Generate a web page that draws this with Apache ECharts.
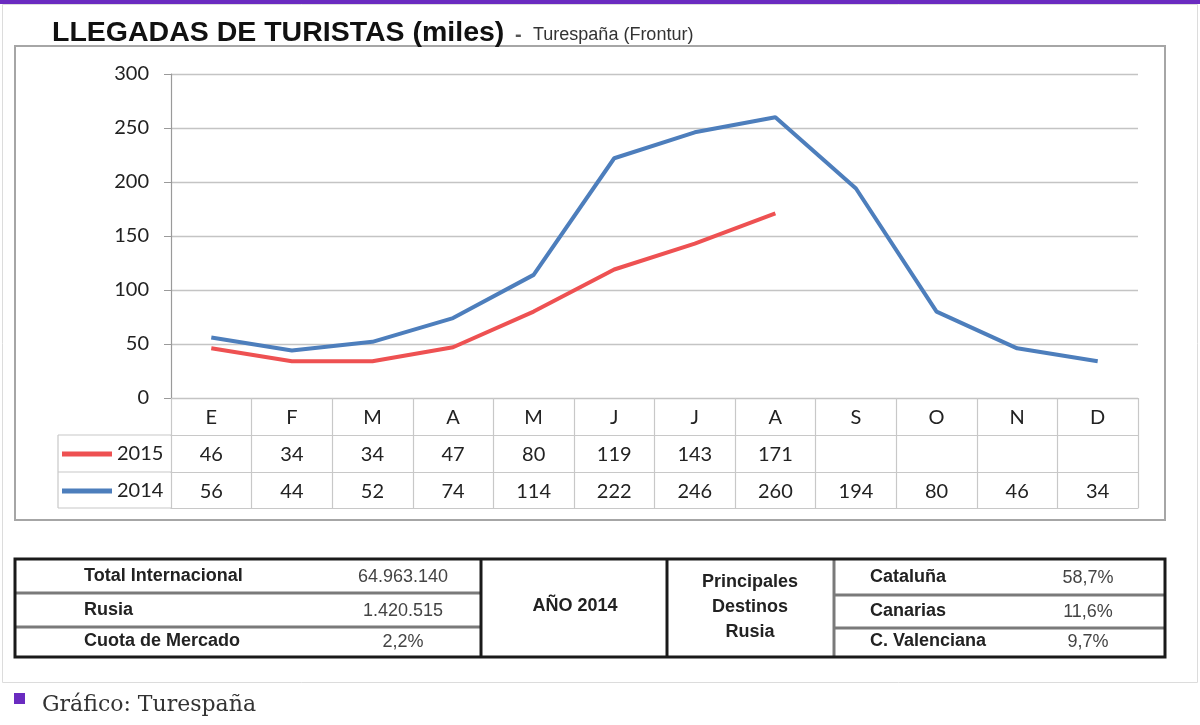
<!DOCTYPE html>
<html><head><meta charset="utf-8">
<script src="https://cdn.jsdelivr.net/npm/echarts@6/dist/echarts.min.js"></script>
<style>html,body{margin:0;padding:0;background:#fff}#c{width:1200px;height:725px}</style>
</head><body><div id="c"></div>
<script>
const months = ['E','F','M','A','M','J','J','A','S','O','N','D'];
const values2015 = [46,34,34,47,80,119,143,171,null,null,null,null];
const values2014 = [56,44,52,74,114,222,246,260,194,80,46,34];
const seriesNames = ['2015','2014'];
const summaryLabels = ['Total Internacional','Rusia','Cuota de Mercado'];
const summaryValues = ['64.963.140','1.420.515','2,2%'];
const yearLabel = 'AÑO 2014';
const destinosTitle = ['Principales','Destinos','Rusia'];
const destinos = ['Cataluña','Canarias','C. Valenciana'];
const destinosShare = ['58,7%','11,6%','9,7%'];

const RED = '#EE5152', BLUE = '#4D7EBC';
const GRID = '#c4c4c4', TBL = '#c8c8c8';
const NUM_FONT = 'Lato';
const NUM_COLOR = '#222';
const chart = echarts.init(document.getElementById('c'), null, {renderer:'canvas'});

function valueAxis(offset, vals, showLabels){
  return {
    type:'category', data: months, position:'bottom', offset: offset, boundaryGap:true,
    axisLine:{show:true, lineStyle:{color:TBL, width:1.2}},
    axisTick:{show:false},
    axisLabel:{show:showLabels, interval:0, margin:10, fontFamily:NUM_FONT, fontSize:20, color:NUM_COLOR,
      formatter:(v,i)=> (vals && vals[i]!=null) ? String(vals[i]) : ''}
  };
}

const g = [];
// top purple bar and card
g.push({type:'rect', shape:{x:0,y:0,width:1200,height:4}, style:{fill:'#6A2BC0'}, silent:true});
g.push({type:'rect', shape:{x:2.5,y:4.5,width:1195,height:678}, style:{fill:'none', stroke:'#dcdcdc', lineWidth:1}, silent:true});
// chart frame
g.push({type:'rect', shape:{x:15,y:46,width:1150,height:474}, style:{fill:'none', stroke:'#a6a6a6', lineWidth:2}, silent:true});
// title
g.push({type:'text', x:52, y:33, style:{text:'LLEGADAS DE TURISTAS (miles)', font:'bold 28.5px "Liberation Sans", Arial', fill:'#111', verticalAlign:'middle'}});
g.push({type:'text', x:515, y:35, style:{text:'-', font:'bold 20px "Liberation Sans", Arial', fill:'#555', verticalAlign:'middle'}});
g.push({type:'text', x:533, y:35, style:{text:'Turespaña (Frontur)', font:'18px "Liberation Sans", Arial', fill:'#333', verticalAlign:'middle'}});
// left part of data table
[435, 472, 508].forEach(y=>g.push({type:'line', shape:{x1:58,y1:y,x2:171,y2:y}, style:{stroke:TBL, lineWidth:1.2}, silent:true}));
g.push({type:'line', shape:{x1:58,y1:435,x2:58,y2:508}, style:{stroke:TBL, lineWidth:1.2}, silent:true});

// bottom summary table
const T = {x1:15, x2:1165, y1:559, y2:657};
const thick = {stroke:'#1a1a1a', lineWidth:3};
const dbl = {stroke:'#7a7a7a', lineWidth:3};
g.push({type:'line', shape:{x1:15,y1:593,x2:481,y2:593}, style:dbl, silent:true});
g.push({type:'line', shape:{x1:15,y1:627,x2:481,y2:627}, style:dbl, silent:true});
g.push({type:'line', shape:{x1:834,y1:595,x2:1165,y2:595}, style:dbl, silent:true});
g.push({type:'line', shape:{x1:834,y1:628,x2:1165,y2:628}, style:dbl, silent:true});
g.push({type:'line', shape:{x1:834,y1:559,x2:834,y2:657}, style:dbl, silent:true});
g.push({type:'rect', shape:{x:T.x1,y:T.y1,width:T.x2-T.x1,height:T.y2-T.y1}, style:{fill:'none', ...thick}, silent:true});
g.push({type:'line', shape:{x1:481,y1:559,x2:481,y2:657}, style:thick, silent:true});
g.push({type:'line', shape:{x1:667,y1:559,x2:667,y2:657}, style:thick, silent:true});
const rowY = [576, 610, 641];
const boldF = 'bold 18px "Liberation Sans", Arial';
const normF = '18px "Liberation Sans", Arial';
summaryLabels.forEach((t,i)=>{
  g.push({type:'text', x:84, y:rowY[i], style:{text:t, font:boldF, fill:'#222', verticalAlign:'middle'}});
  g.push({type:'text', x:403, y:rowY[i]+1, style:{text:summaryValues[i], font:normF, fill:'#444', align:'center', verticalAlign:'middle'}});
});
g.push({type:'text', x:575, y:606, style:{text:yearLabel, font:boldF, fill:'#222', align:'center', verticalAlign:'middle'}});
destinosTitle.forEach((t,i)=>g.push({type:'text', x:750, y:582+i*25, style:{text:t, font:boldF, fill:'#222', align:'center', verticalAlign:'middle'}}));
const dY = [577, 611, 641];
destinos.forEach((t,i)=>{
  g.push({type:'text', x:870, y:dY[i], style:{text:t, font:boldF, fill:'#222', verticalAlign:'middle'}});
  g.push({type:'text', x:1088, y:dY[i]+1, style:{text:destinosShare[i], font:normF, fill:'#444', align:'center', verticalAlign:'middle'}});
});
// footer
g.push({type:'rect', shape:{x:14,y:693,width:11,height:11}, style:{fill:'#6A2BC0'}, silent:true});
g.push({type:'text', x:42, y:705, style:{text:'Gráfico: Turespaña', font:'22px "DejaVu Serif", serif', fill:'#333', verticalAlign:'middle'}});

const option = {
  animation:false,
  backgroundColor:'#fff',
  grid:{left:171, right:62, top:74, bottom:327, containLabel:false},
  legend:{orient:'vertical', left:62, top:444, padding:0, itemWidth:50, itemHeight:5, itemGap:17, icon:'rect',
    data: seriesNames, selectedMode:false,
    textStyle:{fontFamily:NUM_FONT, fontSize:20, color:NUM_COLOR}},
  xAxis:[
    {type:'category', data: months, position:'bottom', boundaryGap:true,
     axisLine:{show:true, lineStyle:{color:GRID, width:1.2}},
     axisTick:{show:true, length:110, inside:false, lineStyle:{color:TBL, width:1.2}},
     axisLabel:{interval:0, margin:10, fontFamily:NUM_FONT, fontSize:20, color:NUM_COLOR}},
    valueAxis(37, values2015, true),
    valueAxis(74, values2014, true),
    valueAxis(110, null, false)
  ],
  yAxis:{type:'value', min:0, max:300, interval:50,
    axisLine:{show:true, lineStyle:{color:'#9a9a9a', width:1.2}},
    axisTick:{show:true, length:7, lineStyle:{color:'#9a9a9a'}},
    axisLabel:{margin:22, fontFamily:NUM_FONT, fontSize:20, color:NUM_COLOR},
    splitLine:{show:true, lineStyle:{color:GRID, width:1.4}}},
  series:[
    {name:seriesNames[0], type:'line', data: values2015, xAxisIndex:0, symbol:'none', connectNulls:false,
     lineStyle:{color:RED, width:4}, itemStyle:{color:RED}, z:3},
    {name:seriesNames[1], type:'line', data: values2014, xAxisIndex:0, symbol:'none',
     lineStyle:{color:BLUE, width:4}, itemStyle:{color:BLUE}, z:4}
  ],
  graphic: g
};
chart.setOption(option);
</script></body></html>
